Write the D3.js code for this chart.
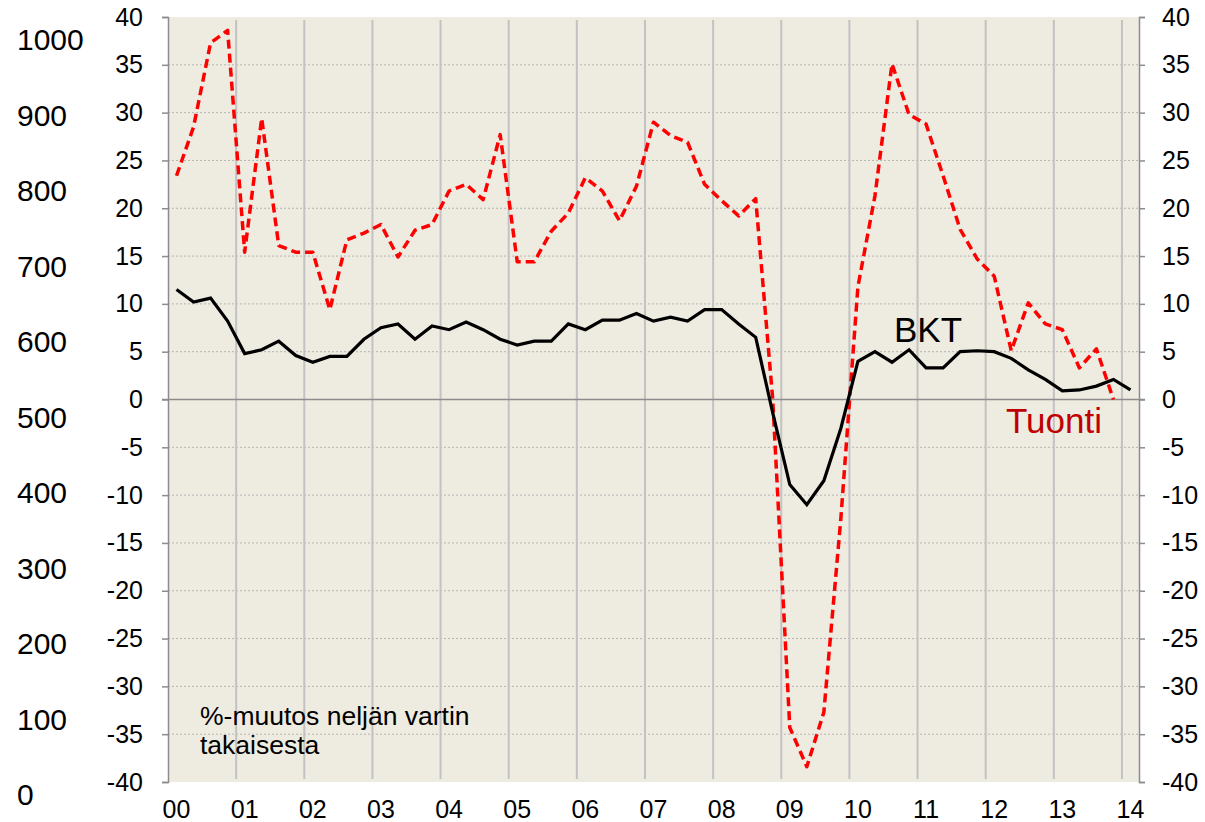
<!DOCTYPE html>
<html>
<head>
<meta charset="utf-8">
<script src="https://d3js.org/d3.v7.min.js"></script>
<style>
  body { margin: 0; background: #ffffff; }
  svg { display: block; font-family: "Liberation Sans", Arial, sans-serif; }
</style>
</head>
<body>
<div id="chart"></div>
<script>
// years on the category axis, one label per 4 quarters
var years = ["00","01","02","03","04","05","06","07","08","09","10","11","12","13","14"];

// BKT, %-change from the same quarter a year earlier (2000Q1..2014Q1)
var bkt = [11.5,10.2,10.6,8.2, 4.8,5.2,6.1,4.6, 3.9,4.5,4.5,6.3, 7.5,7.9,6.3,7.7,
    7.3,8.1,7.3,6.3, 5.7,6.1,6.1,7.9, 7.3,8.3,8.3,9.0, 8.2,8.6,8.2,9.4,
    9.4,7.9,6.5,-1.4, -8.9,-11.0,-8.5,-3.0, 4.0,5.0,3.9,5.2, 3.3,3.3,5.0,5.1,
    5.0,4.3,3.1,2.1, 0.9,1.0,1.4,2.1, 1.0];

// Tuonti (imports), %-change (2000Q1..2013Q4)
var tuonti = [23.4,28.5,37.3,38.6, 15.4,29.4,16.1,15.4, 15.4,9.4,16.7,17.4, 18.3,14.9,17.7,18.3,
    21.8,22.5,20.9,27.7, 14.4,14.4,17.6,19.5, 23.2,21.8,18.7,22.3, 29.0,27.6,26.9,22.5,
    20.8,19.2,21.0,0.0, -34.3,-38.4,-32.7,-12.4, 11.8,21.3,35.1,29.8, 28.8,23.4,17.8,14.7,
    12.9,5.1,10.1,7.9, 7.3,3.3,5.3,0.0];

// leftover outer scale on the far left
var outerTicks = [0,100,200,300,400,500,600,700,800,900,1000];

var quarters = [];
years.forEach(function(yy) {
    for (var q = 1; q <= 4; q++) {
        if (quarters.length < bkt.length) quarters.push(yy + "Q" + q);
    }
});

var width = 1205, height = 822;
var pLeft = 168, pRight = 1139, pTop = 17, pBottom = 782;
var fontFam = "Liberation Sans, Arial, sans-serif";

var svg = d3.select("#chart").append("svg")
    .attr("width", width)
    .attr("height", height);

var x = d3.scaleBand().domain(quarters).range([pLeft, pRight]).padding(0);
var y = d3.scaleLinear().domain([-40, 40]).range([pBottom, pTop]);
var yOuter = d3.scaleLinear().domain([0, 1000]).range([795, 40]);

var xc = function(i) { return x(quarters[i]) + x.bandwidth() / 2; };

// plot background
svg.append("rect")
    .attr("x", pLeft).attr("y", pTop)
    .attr("width", pRight - pLeft).attr("height", pBottom - pTop)
    .attr("fill", "#eeebe1");

var ticks = d3.range(-40, 41, 5);

// horizontal dotted gridlines
svg.append("g").selectAll("line")
    .data(ticks.filter(function(d) { return d != 0 && d != 40 && d != -40; }))
    .enter().append("line")
    .attr("x1", pLeft).attr("x2", pRight)
    .attr("y1", function(d) { return y(d); })
    .attr("y2", function(d) { return y(d); })
    .attr("stroke", "#b4b4b4")
    .attr("stroke-width", 1)
    .attr("stroke-dasharray", "2,2");

// vertical year gridlines
var yearStarts = years.slice(1).map(function(d) { return d + "Q1"; });
svg.append("g").selectAll("line")
    .data(yearStarts)
    .enter().append("line")
    .attr("x1", function(d) { return x(d); })
    .attr("x2", function(d) { return x(d); })
    .attr("y1", pTop + 3).attr("y2", pBottom - 3)
    .attr("stroke", "#c2c2c2")
    .attr("stroke-width", 2);

// zero line
svg.append("line")
    .attr("x1", pLeft - 6).attr("x2", pRight + 6)
    .attr("y1", y(0)).attr("y2", y(0))
    .attr("stroke", "#8c8c8c")
    .attr("stroke-width", 1.5);

// axes (plain hyphen for minus, like the original)
var fmt = function(d) { return String(d); };

var axL = svg.append("g")
    .attr("transform", "translate(" + pLeft + ",0)")
    .call(d3.axisLeft(y).tickValues(ticks).tickSize(6).tickPadding(19).tickFormat(fmt));
var axR = svg.append("g")
    .attr("transform", "translate(" + pRight + ",0)")
    .call(d3.axisRight(y).tickValues(ticks).tickSize(6).tickPadding(17).tickFormat(fmt));
[axL, axR].forEach(function(ax) {
    ax.select(".domain").attr("stroke", "#8c8c8c").attr("stroke-width", 1.5);
    ax.selectAll(".tick line").attr("stroke", "#8c8c8c").attr("stroke-width", 1.5);
    ax.selectAll("text").attr("font-size", 25).attr("fill", "#000")
        .attr("font-family", fontFam);
});

var axO = svg.append("g")
    .attr("transform", "translate(17,0)")
    .call(d3.axisRight(yOuter).tickValues(outerTicks).tickSize(0).tickPadding(0).tickFormat(fmt));
axO.select(".domain").remove();
axO.selectAll("text").attr("font-size", 30).attr("fill", "#000")
    .attr("font-family", fontFam);

var axB = svg.append("g")
    .attr("transform", "translate(0," + pBottom + ")")
    .call(d3.axisBottom(x)
        .tickValues(years.map(function(d) { return d + "Q1"; }))
        .tickFormat(function(d) { return d.slice(0, 2); })
        .tickSize(0).tickPadding(18));
axB.select(".domain").remove();
axB.selectAll("text").attr("font-size", 25).attr("fill", "#000")
    .attr("font-family", fontFam);

// lines
var line = d3.line()
    .x(function(d, i) { return xc(i); })
    .y(function(d) { return y(d); });

svg.append("path")
    .datum(tuonti)
    .attr("d", line)
    .attr("fill", "none")
    .attr("stroke", "#ff0000")
    .attr("stroke-width", 3.5)
    .attr("stroke-dasharray", "9,5")
    .attr("stroke-linejoin", "round");

svg.append("path")
    .datum(bkt)
    .attr("d", line)
    .attr("fill", "none")
    .attr("stroke", "#000000")
    .attr("stroke-width", 3.2)
    .attr("stroke-linejoin", "miter");

// labels
svg.append("text")
    .attr("x", 894).attr("y", 342)
    .attr("font-size", 35)
    .attr("fill", "#000")
    .text("BKT");

svg.append("text")
    .attr("x", 1006).attr("y", 433)
    .attr("font-size", 35)
    .attr("fill", "#c00000")
    .text("Tuonti");

var note = svg.append("text")
    .attr("font-size", 26.5)
    .attr("fill", "#000");
note.append("tspan").attr("x", 200).attr("y", 725).text("%-muutos neljän vartin");
note.append("tspan").attr("x", 200).attr("y", 754).text("takaisesta");
</script>
</body>
</html>
